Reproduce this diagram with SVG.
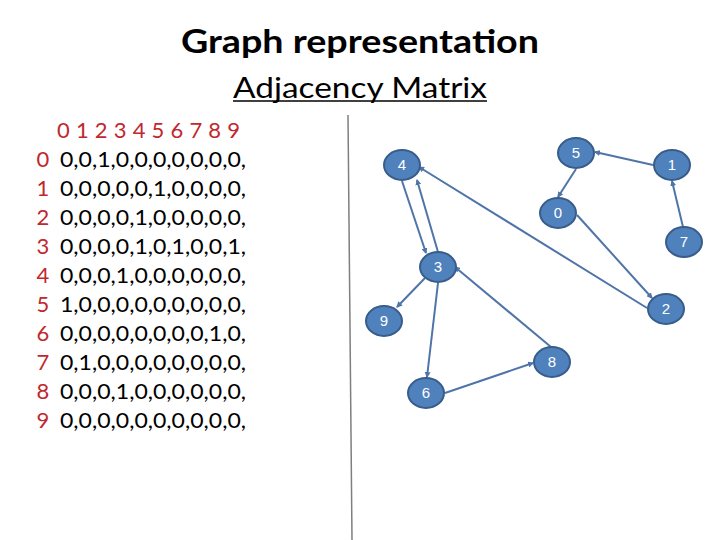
<svg xmlns="http://www.w3.org/2000/svg" width="720" height="540" viewBox="0 0 720 540">
<defs>
<marker id="ah" markerWidth="6" markerHeight="6" refX="5" refY="3" orient="auto" markerUnits="userSpaceOnUse"><path d="M0,0 L6,3 L0,6 Z" fill="#4F74A8"/></marker>
<style>
.t{font-family:Lato,"Open Sans","Liberation Sans",sans-serif}
.h{font-size:22px;fill:#C0282D}
.m{font-size:22px;fill:#000}
.e{stroke:#4F74A8;stroke-width:2;fill:none;marker-end:url(#ah)}
.n ellipse{fill:#4F81BD;stroke:#385D8A;stroke-width:2}
.n text{font-family:"Liberation Sans",Arial,sans-serif;font-size:15px;fill:#fff;text-anchor:middle}
</style>
</defs>
<rect width="720" height="540" fill="#fff"/>
<text class="t" x="360" y="53" font-size="32" font-weight="bold" text-anchor="middle" textLength="358" lengthAdjust="spacingAndGlyphs">Graph representation</text>
<text class="t" x="360" y="98" font-size="28" text-anchor="middle" textLength="254" lengthAdjust="spacingAndGlyphs">Adjacency Matrix</text>
<line x1="233" y1="101" x2="487" y2="101" stroke="#000" stroke-width="1.5"/>
<line x1="348" y1="115" x2="352" y2="540" stroke="#7F7F7F" stroke-width="1.5"/>
<g id="matrix">
<text class="t h" x="57" y="138" textLength="183" lengthAdjust="spacing">0 1 2 3 4 5 6 7 8 9</text>
<g class="t h" text-anchor="middle">
<text x="43" y="167">0</text><text x="43" y="196">1</text><text x="43" y="225">2</text><text x="43" y="254">3</text><text x="43" y="283">4</text><text x="43" y="312">5</text><text x="43" y="341">6</text><text x="43" y="370">7</text><text x="43" y="399">8</text><text x="43" y="428">9</text>
</g>
<g class="t m">
<text x="60" y="167" textLength="186" lengthAdjust="spacingAndGlyphs">0,0,1,0,0,0,0,0,0,0,</text>
<text x="60" y="196" textLength="186" lengthAdjust="spacingAndGlyphs">0,0,0,0,0,1,0,0,0,0,</text>
<text x="60" y="225" textLength="186" lengthAdjust="spacingAndGlyphs">0,0,0,0,1,0,0,0,0,0,</text>
<text x="60" y="254" textLength="186" lengthAdjust="spacingAndGlyphs">0,0,0,0,1,0,1,0,0,1,</text>
<text x="60" y="283" textLength="186" lengthAdjust="spacingAndGlyphs">0,0,0,1,0,0,0,0,0,0,</text>
<text x="60" y="312" textLength="186" lengthAdjust="spacingAndGlyphs">1,0,0,0,0,0,0,0,0,0,</text>
<text x="60" y="341" textLength="186" lengthAdjust="spacingAndGlyphs">0,0,0,0,0,0,0,0,1,0,</text>
<text x="60" y="370" textLength="186" lengthAdjust="spacingAndGlyphs">0,1,0,0,0,0,0,0,0,0,</text>
<text x="60" y="399" textLength="186" lengthAdjust="spacingAndGlyphs">0,0,0,1,0,0,0,0,0,0,</text>
<text x="60" y="428" textLength="186" lengthAdjust="spacingAndGlyphs">0,0,0,0,0,0,0,0,0,0,</text>
</g>
</g>
<g id="edges">
<line class="e" x1="577" y1="215" x2="652" y2="298"/>
<line class="e" x1="653" y1="165" x2="595" y2="152"/>
<line class="e" x1="647" y1="308" x2="419" y2="167"/>
<line class="e" x1="438" y1="252" x2="417" y2="180"/>
<line class="e" x1="402" y1="181" x2="426" y2="253"/>
<line class="e" x1="438" y1="283" x2="427" y2="377"/>
<line class="e" x1="425" y1="278" x2="397" y2="307"/>
<line class="e" x1="576" y1="169" x2="558" y2="197"/>
<line class="e" x1="445" y1="393" x2="533" y2="363"/>
<line class="e" x1="683" y1="227" x2="672" y2="181"/>
<line class="e" x1="551" y1="347" x2="455" y2="267"/>
</g>
<g id="node0" class="n"><ellipse cx="558" cy="213" rx="18" ry="15"/><text x="558" y="218">0</text></g>
<g id="node1" class="n"><ellipse cx="672" cy="165" rx="18" ry="15"/><text x="672" y="170">1</text></g>
<g id="node2" class="n"><ellipse cx="666" cy="309" rx="18" ry="15"/><text x="666" y="314">2</text></g>
<g id="node3" class="n"><ellipse cx="438" cy="267" rx="18" ry="15"/><text x="438" y="272">3</text></g>
<g id="node4" class="n"><ellipse cx="402" cy="165" rx="18" ry="15"/><text x="402" y="170">4</text></g>
<g id="node5" class="n"><ellipse cx="576" cy="153" rx="18" ry="15"/><text x="576" y="158">5</text></g>
<g id="node6" class="n"><ellipse cx="426" cy="393" rx="18" ry="15"/><text x="426" y="398">6</text></g>
<g id="node7" class="n"><ellipse cx="684" cy="242" rx="18" ry="15"/><text x="684" y="247">7</text></g>
<g id="node8" class="n"><ellipse cx="552" cy="362" rx="18" ry="15"/><text x="552" y="367">8</text></g>
<g id="node9" class="n"><ellipse cx="384" cy="321" rx="18" ry="15"/><text x="384" y="326">9</text></g>
</svg>
